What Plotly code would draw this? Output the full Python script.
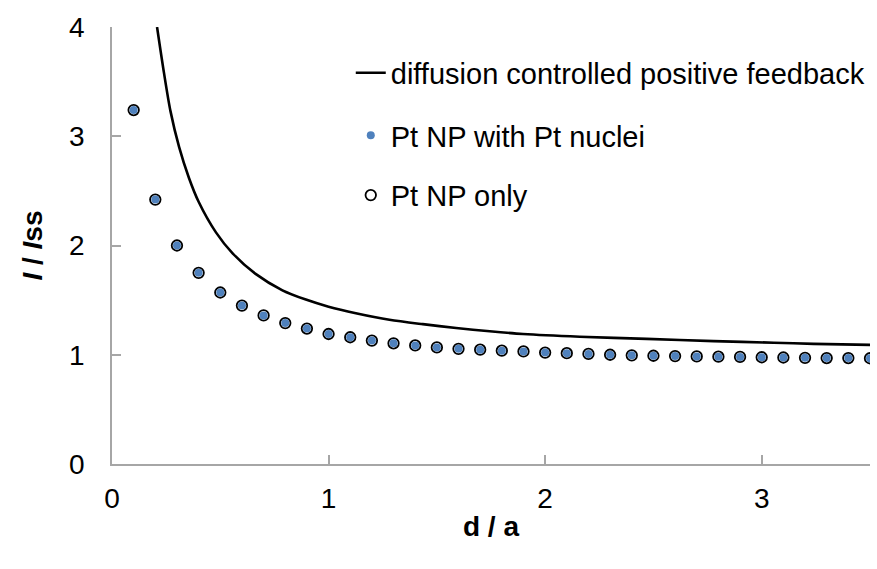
import plotly.graph_objects as go

# Normalised tip-substrate distance (d / a) for the measured approach curves
d_over_a = [0.1, 0.2, 0.3, 0.4, 0.5, 0.6, 0.7, 0.8, 0.9, 1.0,
            1.1, 1.2, 1.3, 1.4, 1.5, 1.6, 1.7, 1.8, 1.9, 2.0,
            2.1, 2.2, 2.3, 2.4, 2.5, 2.6, 2.7, 2.8, 2.9, 3.0,
            3.1, 3.2, 3.3, 3.4, 3.5]

# Normalised current I / Iss, Pt NP with Pt nuclei
i_pt_nuclei = [3.24, 2.42, 2.00, 1.75, 1.57, 1.45, 1.36, 1.29, 1.24, 1.19,
               1.16, 1.13, 1.105, 1.085, 1.067, 1.054, 1.046, 1.037, 1.030, 1.020,
               1.014, 1.008, 1.000, 0.995, 0.991, 0.988, 0.985, 0.982, 0.980, 0.977,
               0.975, 0.972, 0.970, 0.970, 0.968]

# Normalised current I / Iss, Pt NP only
i_pt_only = [3.24, 2.42, 2.00, 1.75, 1.57, 1.45, 1.36, 1.29, 1.24, 1.19,
             1.16, 1.13, 1.105, 1.085, 1.067, 1.054, 1.046, 1.037, 1.030, 1.020,
             1.014, 1.008, 1.000, 0.995, 0.991, 0.988, 0.985, 0.982, 0.980, 0.977,
             0.975, 0.972, 0.970, 0.970, 0.968]

# Theoretical diffusion-controlled positive feedback curve
theory_x = [0.208, 0.24, 0.27, 0.31, 0.355, 0.40, 0.48, 0.556, 0.663, 0.787,
            0.895, 1.0, 1.126, 1.281, 1.435, 1.589, 1.744, 1.898, 2.16, 2.469,
            2.778, 3.056, 3.24, 3.5]
theory_y = [4.00, 3.58, 3.23, 2.90, 2.62, 2.40, 2.12, 1.93, 1.74, 1.59,
            1.505, 1.44, 1.38, 1.32, 1.28, 1.245, 1.215, 1.19, 1.165, 1.145,
            1.125, 1.11, 1.10, 1.09]

x_ticks = [0, 1, 2, 3]
y_ticks = [0, 1, 2, 3, 4]

FONT = "Liberation Sans, Arial, sans-serif"
BLUE = "#4F81BD"
AXIS_GREY = "#a6a6a6"

fig = go.Figure()

fig.add_trace(go.Scatter(
    x=theory_x, y=theory_y, mode="lines",
    line=dict(color="black", width=2.6, shape="spline", smoothing=0.8),
    name="diffusion controlled positive feedback", legend="legend",
))
fig.add_trace(go.Scatter(
    x=d_over_a, y=i_pt_only, mode="markers",
    marker=dict(size=10.5, color="white", line=dict(color="black", width=1.8)),
    name="Pt NP only", legend="legend3",
))
fig.add_trace(go.Scatter(
    x=d_over_a, y=i_pt_nuclei, mode="markers",
    marker=dict(size=8, color=BLUE, line=dict(width=0)),
    name="Pt NP with Pt nuclei", legend="legend2",
))

legend_style = dict(
    xanchor="left", yanchor="middle", bgcolor="rgba(0,0,0,0)",
    borderwidth=0, font=dict(family=FONT, size=29, color="black"),
    itemsizing="trace", visible=True,
)

fig.update_layout(
    width=877, height=569,
    margin=dict(l=112, r=7, t=27, b=105),
    paper_bgcolor="white", plot_bgcolor="white",
    font=dict(family=FONT, color="black"),
    showlegend=True,
    legend=dict(x=0.315, y=0.895, **legend_style),
    legend2=dict(x=0.315, y=0.752, **legend_style),
    legend3=dict(x=0.315, y=0.615, **legend_style),
    xaxis=dict(
        range=[0, 3.5], tickvals=x_ticks, showgrid=False, zeroline=False,
        showline=True, linecolor=AXIS_GREY, linewidth=1.5,
        ticks="inside", ticklen=9, tickcolor=AXIS_GREY, tickwidth=1.5,
        tickfont=dict(family=FONT, size=28, color="black"),
        ticklabelstandoff=9,
        title=dict(text="<b>d / a</b>", font=dict(family=FONT, size=28, color="black"),
                   standoff=3),
    ),
    yaxis=dict(
        range=[0, 4], tickvals=y_ticks, showgrid=False, zeroline=False,
        showline=True, linecolor=AXIS_GREY, linewidth=1.5,
        ticks="inside", ticklen=9, tickcolor=AXIS_GREY, tickwidth=1.5,
        tickfont=dict(family=FONT, size=28, color="black"),
        ticklabelstandoff=20,
        title=dict(text="<b><i>I</i> / <i>I</i>ss</b>", font=dict(family=FONT, size=28, color="black"),
                   standoff=18),
    ),
)

fig.write_html("out.html")
